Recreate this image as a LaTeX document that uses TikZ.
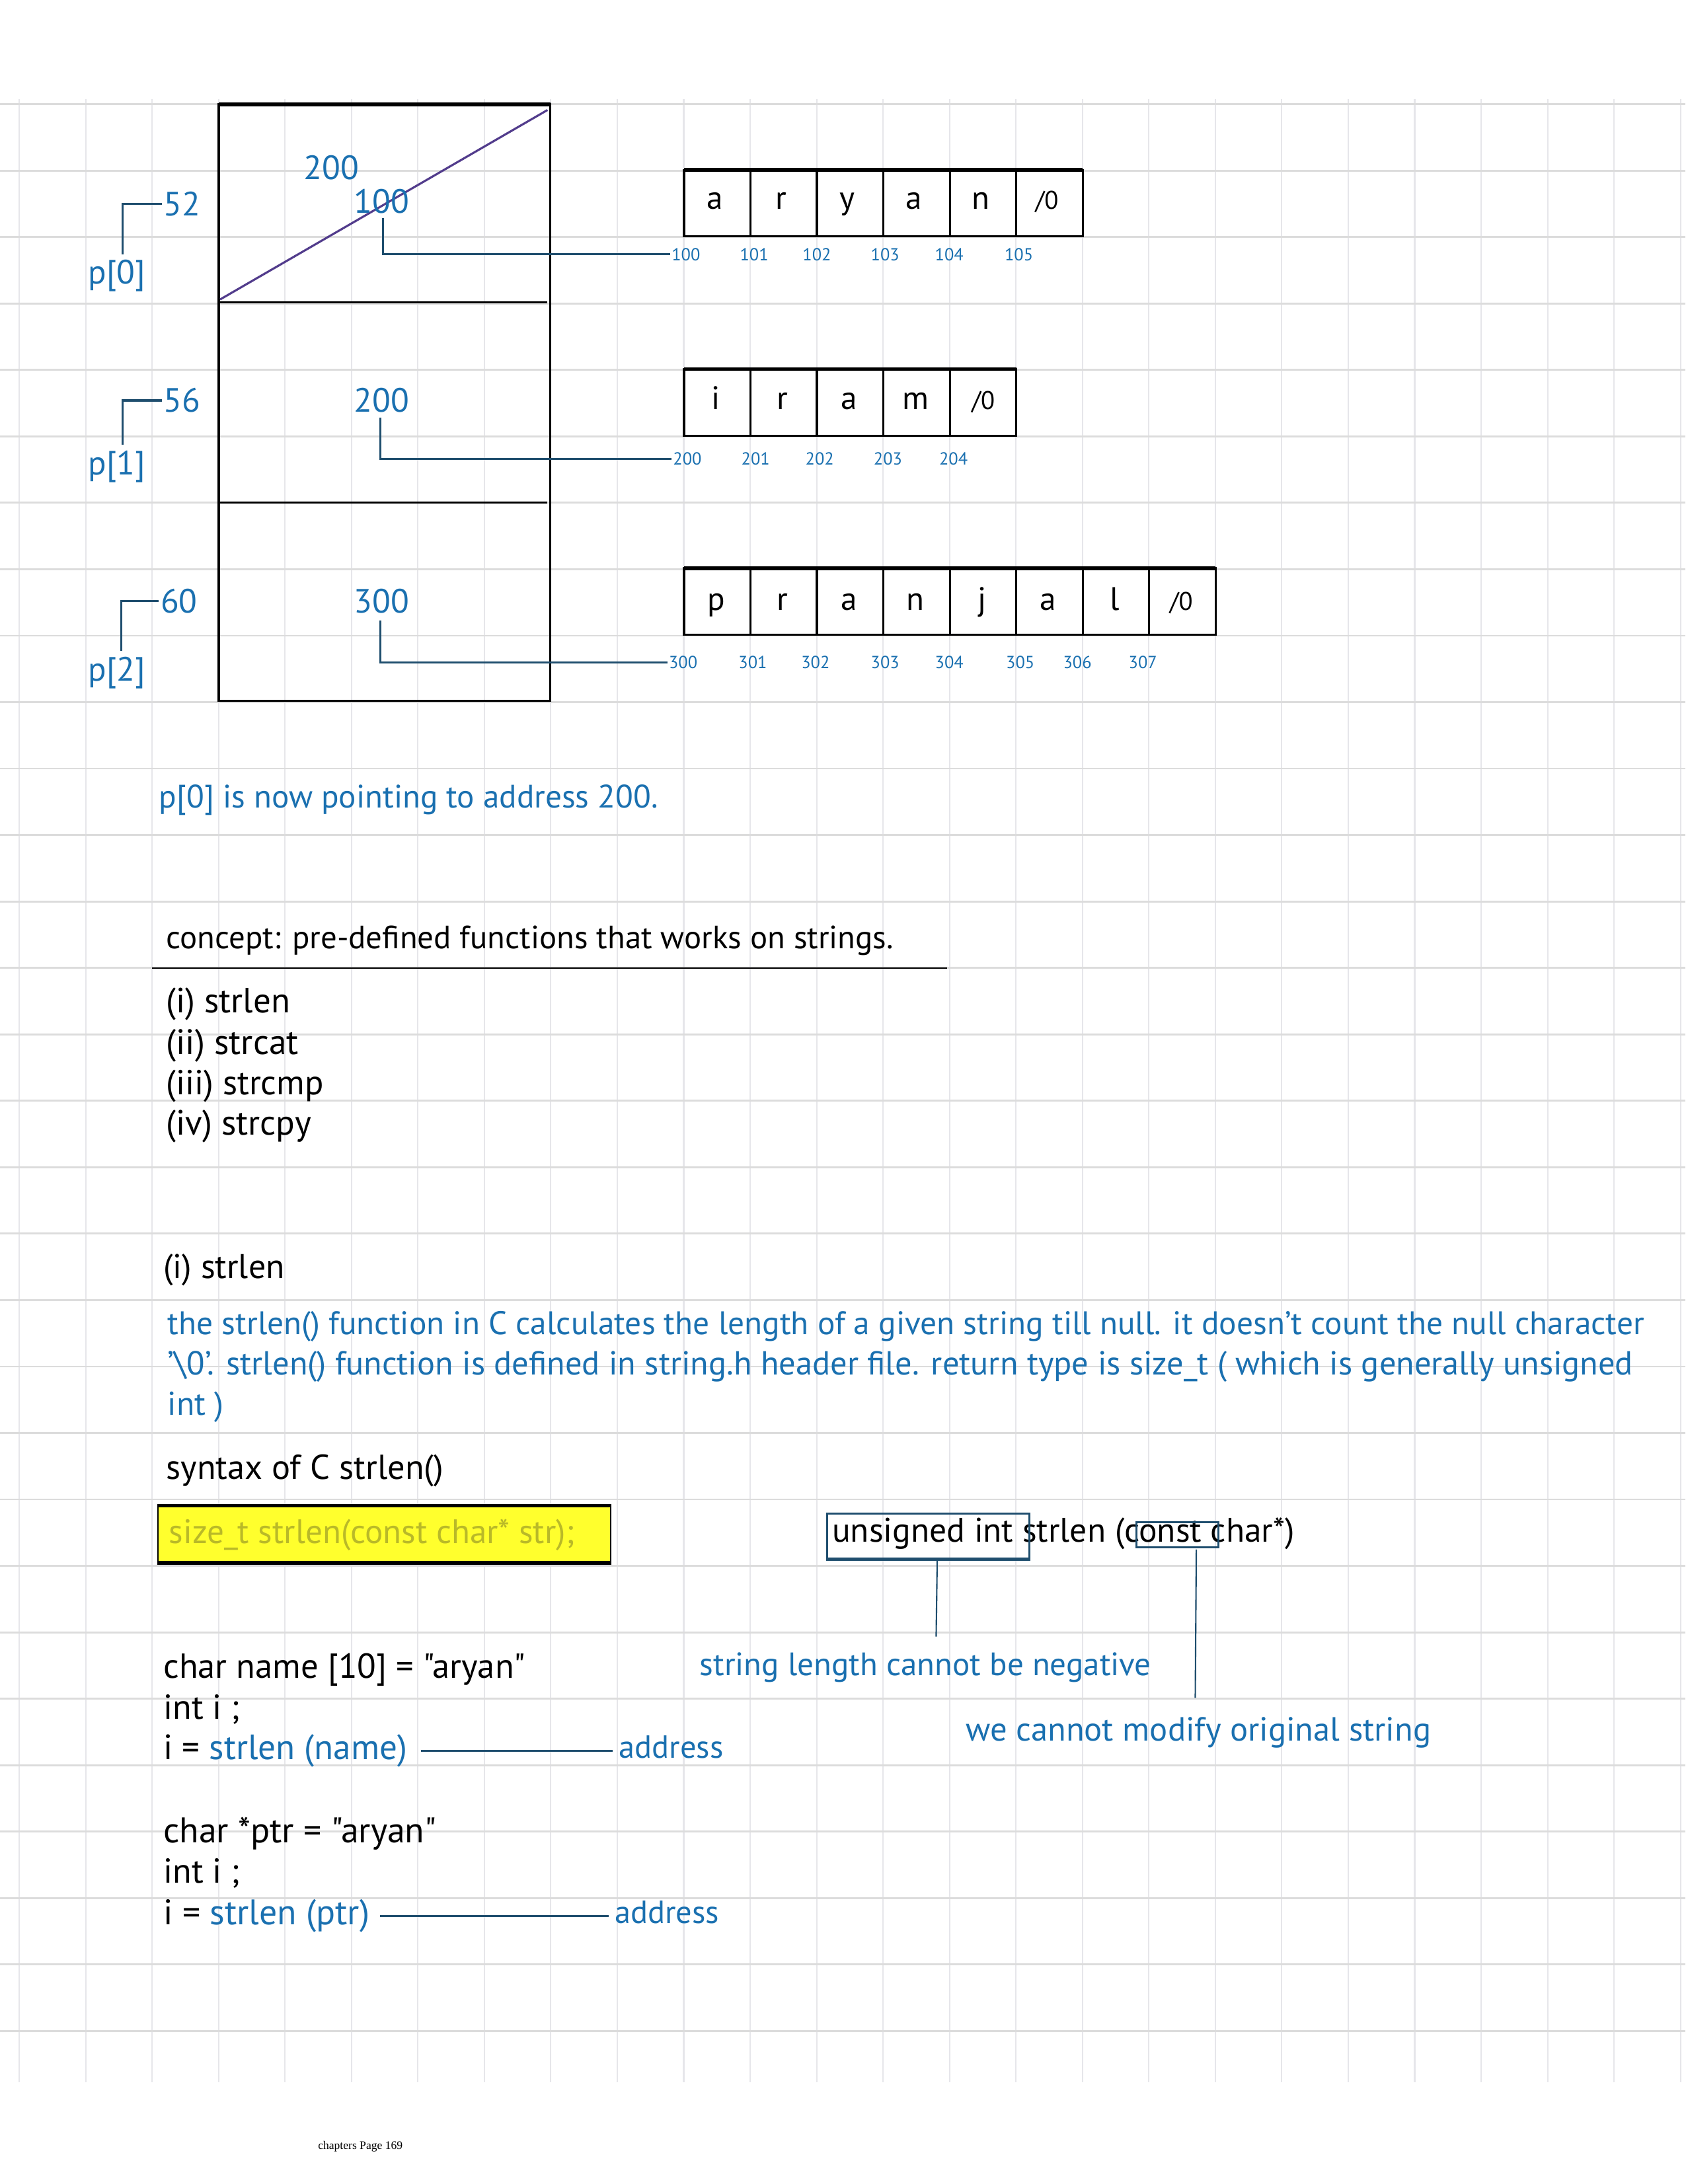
\documentclass[tikz,border=0pt]{standalone}
\usepackage{fontspec}
\setmainfont{PT Sans}
\newfontfamily\hwplain{PT Sans}
\newfontfamily\footfont{Liberation Serif}
\usetikzlibrary{calc}
\definecolor{pen}{RGB}{26,112,176}
\definecolor{wire}{RGB}{31,78,110}
\definecolor{gridh}{RGB}{220,220,220}
\definecolor{gridv}{RGB}{230,230,234}
\definecolor{hl}{RGB}{255,255,45}
\definecolor{hltext}{RGB}{185,185,40}
\definecolor{diag}{RGB}{82,60,140}
\newlength\pxu
\setlength\pxu{0.21074mm}
\begin{document}
\begin{tikzpicture}[x=0.21074mm,y=-0.21074mm,
  hw/.style={inner sep=0pt, anchor=base west, font=\fontsize{13}{15}\selectfont},
  hwbig/.style={inner sep=0pt, anchor=base west, font=\fontsize{14.2}{17}\selectfont},
  big/.style={inner sep=0pt, anchor=base, font=\fontsize{14.5}{17}\selectfont, text=pen},
  lbl/.style={inner sep=0pt, anchor=base west, font=\fontsize{14.5}{17}\selectfont, text=pen},
  cellch/.style={inner sep=0pt, anchor=base, font=\fontsize{14}{16}\selectfont},
  addr/.style={inner sep=0.5pt, anchor=base west, font=\fontsize{7.5}{9}\selectfont, text=pen},
  wireline/.style={draw=wire, line width=0.9pt},
  thinwire/.style={draw=wire, line width=0.6pt},
  cellbox/.style={draw=black, line width=0.9pt}
]
\useasboundingbox (0,0) rectangle (1210,1568);
\fill[white] (0,0) rectangle (1210,1568);
% grid
\foreach \k in {0,...,25} \draw[gridv, line width=0.6pt] ({13.8+\k*47.7},71) -- ({13.8+\k*47.7},1495);
\foreach \k in {0,...,29} \draw[gridh, line width=0.8pt] (0,{74.8+\k*47.7}) -- (1210,{74.8+\k*47.7});

% memory box
\draw[cellbox] (157,75) rectangle (395,503);
\draw[line width=1.6pt] (157,75) -- (395,75);
\draw[cellbox] (157,217) -- (393,217);
\draw[cellbox] (157,361) -- (393,361);
\draw[diag, line width=0.9pt] (158,215) -- (393,79);

\node[big] (old200) at (238,129) {200};
\node[big] (v100) at (274,153) {100};
\node[big] (v200) at (274,296) {200};
\node[big] (v300) at (274,440) {300};

\node[lbl] (n52) at (117,155) {52};
\node[lbl] (n56) at (117,296) {56};
\node[lbl] (n60) at (115,440) {60};
\node[lbl, anchor=base] (p0) at (84,204) {p[0]};
\node[lbl, anchor=base] (p1) at (84,341) {p[1]};
\node[lbl, anchor=base] (p2) at (84,489) {p[2]};
\draw[wireline] ($(p0.north)+(4,-4)$) |- ($(n52.west)+(-1,0)$);
\draw[wireline] ($(p1.north)+(4,-4)$) |- ($(n56.west)+(-1,0)$);
\draw[wireline] ($(p2.north)+(3,-4)$) |- ($(n60.west)+(-1,0)$);

% array 1
\foreach \c [count=\i from 0] in {a,r,y,a,n} {
  \draw[cellbox] ({491+\i*47.7},122) rectangle ++(47.7,47.7);
  \node[cellch] (ra\i) at ({491+\i*47.7+22},150) {\c};
}
\draw[cellbox] ({491+5*47.7},122) rectangle ++(47.7,47.7);
\node[cellch, font=\fontsize{11}{13}\selectfont] (ra5) at ({491+5*47.7+22},150) {/0};
\draw[line width=1.6pt] (491,122) -- ++(286.2,0);

% array 2
\foreach \c [count=\i from 0] in {i,r,a,m} {
  \draw[cellbox] ({491+\i*47.7},265) rectangle ++(47.7,47.7);
  \node[cellch] (rb\i) at ({491+\i*47.7+23},294) {\c};
}
\draw[cellbox] ({491+4*47.7},265) rectangle ++(47.7,47.7);
\node[cellch, font=\fontsize{11}{13}\selectfont] (rb4) at ({491+4*47.7+24},294) {/0};
\draw[line width=1.6pt] (491,265) -- ++(238.5,0);

% array 3
\foreach \c [count=\i from 0] in {p,r,a,n,j,a,l} {
  \draw[cellbox] ({491+\i*47.7},408) rectangle ++(47.7,47.7);
  \node[cellch] (rc\i) at ({491+\i*47.7+23},438) {\c};
}
\draw[cellbox] ({491+7*47.7},408) rectangle ++(47.7,47.7);
\node[cellch, font=\fontsize{11}{13}\selectfont] (rc7) at ({491+7*47.7+23},438) {/0};
\draw[line width=1.6pt] (491,408) -- ++(381.6,0);

% address labels
\node[addr] (a100) at (481,187) {100};
\node[addr] (a101) at (530,187) {101};
\node[addr] (a102) at (575,187) {102};
\node[addr] (a103) at (624,187) {103};
\node[addr] (a104) at (670,187) {104};
\node[addr] (a105) at (720,187) {105};
\node[addr] (a200) at (482,334) {200};
\node[addr] (a201) at (531,334) {201};
\node[addr] (a202) at (577,334) {202};
\node[addr] (a203) at (626,334) {203};
\node[addr] (a204) at (673,334) {204};
\node[addr] (a300) at (479,480) {300};
\node[addr] (a301) at (529,480) {301};
\node[addr] (a302) at (574,480) {302};
\node[addr] (a303) at (624,480) {303};
\node[addr] (a304) at (670,480) {304};
\node[addr] (a305) at (721,480) {305};
\node[addr] (a306) at (762,480) {306};
\node[addr] (a307) at (809,480) {307};

\draw[wireline] ($(v100.south)+(1,3)$) |- (a100.west);
\draw[wireline] ($(v200.south)+(-1,3)$) |- (a200.west);
\draw[wireline] ($(v300.south)+(-1,5)$) |- (a300.west);

% text part
\node[hw, text=pen] (pnow) at (114,580) {\resizebox{358\pxu}{!}{p[0] is now pointing to address 200.}};
\node[hw] (concept) at (119,681) {\resizebox{522\pxu}{!}{concept: pre-defined functions that works on strings.}};
\draw[line width=0.8pt] (109,695) -- (680,695);
\node[hwbig] (l1) at (119,727) {\resizebox{89\pxu}{!}{(i) strlen}};
\node[hwbig] (l2) at (119,757) {\resizebox{95\pxu}{!}{(ii) strcat}};
\node[hwbig] (l3) at (119,786) {\resizebox{113\pxu}{!}{(iii) strcmp}};
\node[hwbig] (l4) at (119,815) {\resizebox{104\pxu}{!}{(iv) strcpy}};

\node[hwbig] (head) at (117,918) {\resizebox{87\pxu}{!}{(i) strlen}};
\node[hw, text=pen] (par1) at (120,958) {\resizebox{1060\pxu}{!}{the strlen() function in C calculates the length of a given string till null. it doesn’t count the null character}};
\node[hw, text=pen] (par2) at (120,987) {\resizebox{1052\pxu}{!}{’\textbackslash0’. strlen() function is defined in string.h header file. return type is size\_t ( which is generally unsigned}};
\node[hwbig, text=pen] (par3) at (120,1016) {int )};

\node[hw] (syntax) at (119,1062) {\resizebox{199\pxu}{!}{syntax of C strlen()}};

\node[fill=hl, draw=black, line width=0.6pt, inner sep=0pt, anchor=north west,
      minimum width=325\pxu, minimum height=40\pxu] (synbox) at (113,1081) {};
\draw[line width=1.5pt] (synbox.north west) -- (synbox.north east);
\draw[line width=1.5pt] (synbox.south west) -- (synbox.south east);
\node[hw, text=hltext] (syntext) at (121,1108) {\resizebox{291\pxu}{!}{size\_t strlen(const char* str);}};

\node[hw] (proto) at (597,1107) {\resizebox{332\pxu}{!}{unsigned int strlen (const char*)}};
\node[draw=wire, line width=0.9pt, inner sep=0pt, anchor=north west,
      minimum width=145\pxu, minimum height=32\pxu] (ubox) at (593,1086) {};
\draw[draw=wire, line width=1.4pt] (ubox.south west) -- (ubox.south east);
\node[draw=wire, line width=0.9pt, inner sep=0pt, anchor=north west,
      minimum width=59\pxu, minimum height=18\pxu] (cbox) at (815,1092) {};

\node[hw, text=pen] (neg) at (502,1203) {\resizebox{324\pxu}{!}{string length cannot be negative}};
\node[hw, text=pen] (mod) at (693,1250) {\resizebox{334\pxu}{!}{we cannot modify original string}};
\coordinate (uend) at (672,1175);
\coordinate (cend) at (858,1219);
\draw[thinwire] ($(ubox.south)+(6.5,1)$) -- (uend);
\draw[thinwire] ($(cbox.south)+(13.5,1)$) -- (cend);

\node[hw] (c1) at (117,1205) {\resizebox{260\pxu}{!}{\hwplain char name [10] = "aryan"}};
\node[hwbig] (c2) at (117,1234) {\resizebox{55\pxu}{!}{int i ;}};
\node[hw] (call1) at (117,1263) {\resizebox{175\pxu}{!}{i = \textcolor{pen}{strlen (name)}}};
\node[hw, text=pen] (ad1) at (444,1262) {\resizebox{75\pxu}{!}{address}};
\draw[wireline] ($(call1.west)+(185,0)$) -- ($(call1.west -| ad1.west)+(-4,0)$);

\node[hw] (c3) at (117,1323) {\resizebox{196\pxu}{!}{\hwplain char *ptr = "aryan"}};
\node[hwbig] (c4) at (117,1352) {\resizebox{55\pxu}{!}{int i ;}};
\node[hw] (call2) at (117,1382) {\resizebox{148\pxu}{!}{i = \textcolor{pen}{strlen (ptr)}}};
\node[hw, text=pen] (ad2) at (441,1381) {\resizebox{75\pxu}{!}{address}};
\draw[wireline] ($(call2.west)+(156,0)$) -- ($(call2.west -| ad2.west)+(-4,0)$);

\node[inner sep=0pt, anchor=base west, font=\footfont\fontsize{5}{6}\selectfont] (foot) at (228,1543) {chapters Page 169};
\end{tikzpicture}
\end{document}
